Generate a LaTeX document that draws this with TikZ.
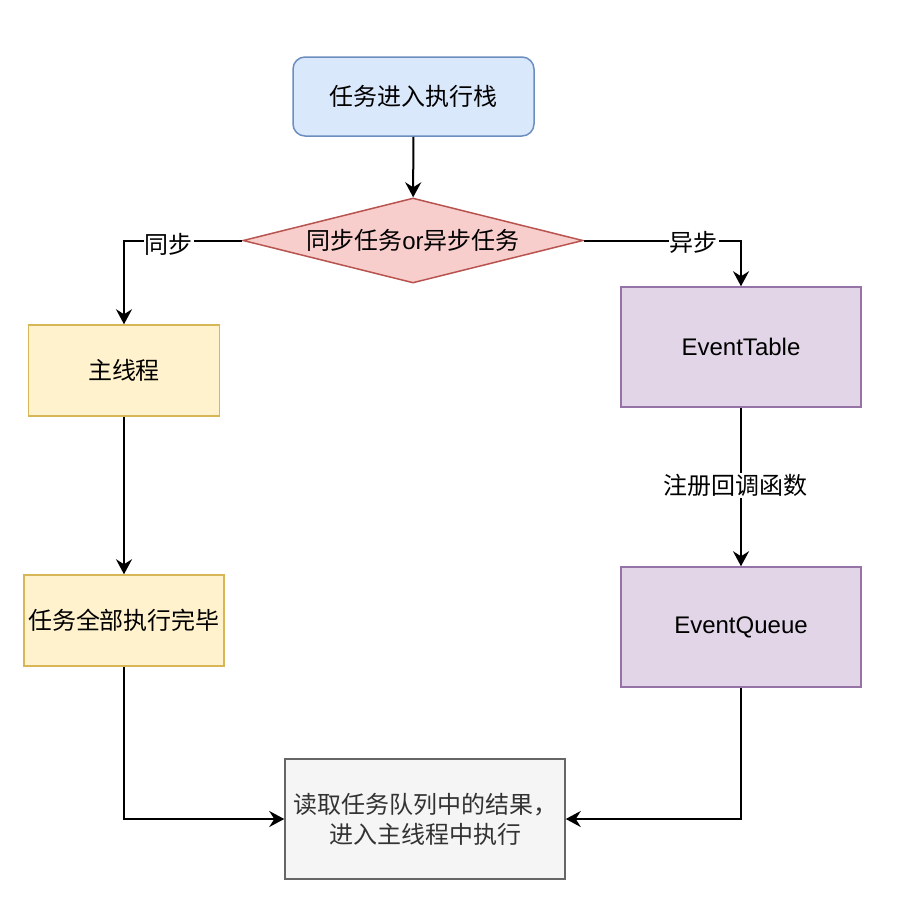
\documentclass[tikz,border=0pt]{standalone}
\usepackage{fontspec}
\setmainfont{Liberation Sans}
\newfontfamily\cjk{Noto Sans CJK SC}
\usetikzlibrary{shapes.geometric,arrows.meta}

\definecolor{blueFill}{HTML}{DAE8FC}
\definecolor{blueLine}{HTML}{6C8EBF}
\definecolor{redFill}{HTML}{F8CECC}
\definecolor{redLine}{HTML}{B85450}
\definecolor{yelFill}{HTML}{FFF2CC}
\definecolor{yelLine}{HTML}{D6B656}
\definecolor{purFill}{HTML}{E1D5E7}
\definecolor{purLine}{HTML}{9673A6}
\definecolor{grayFill}{HTML}{F5F5F5}
\definecolor{grayLine}{HTML}{666666}
\definecolor{grayText}{HTML}{333333}

\tikzset{
  base/.style={draw, line width=1.5pt, inner sep=0pt, align=center,
    font=\fontsize{24}{30}\selectfont},
  startbox/.style={base, rectangle, rounded corners=12pt, fill=blueFill, draw=blueLine,
    minimum width=241pt, minimum height=79pt},
  choice/.style={base, diamond, aspect=4, fill=redFill, draw=redLine,
    minimum width=340pt, minimum height=85pt},
  syncbox/.style={base, rectangle, fill=yelFill, draw=yelLine, minimum height=91pt},
  asyncbox/.style={base, rectangle, fill=purFill, draw=purLine,
    minimum width=240pt, minimum height=120pt},
  resultbox/.style={base, rectangle, fill=grayFill, draw=grayLine, text=grayText,
    minimum width=280pt, minimum height=120pt},
  arr/.style={line width=2pt, -{Stealth[length=15pt,width=16pt,inset=5pt]}},
  lbl/.style={fill=white, inner sep=1pt, font=\cjk\fontsize{24}{28}\selectfont}
}

\begin{document}
\begin{tikzpicture}[x=1pt, y=-1pt]
  \useasboundingbox (0,0) rectangle (898,906);

  % nodes
  \node[startbox] (start) at (413.5,96.5) {\cjk 任务进入执行栈};
  \node[choice] (kind) at (413,240.5) {{\cjk 同步任务}or{\cjk 异步任务}};
  \node[syncbox, minimum width=191pt] (mainthread) at (124,370.5) {\cjk 主线程};
  \node[syncbox, minimum width=200pt] (done) at (124,620.5) {\cjk 任务全部执行完毕};
  \node[asyncbox] (table) at (741,347) {EventTable};
  \node[asyncbox] (queue) at (741,627) {EventQueue};
  \node[resultbox] (result) at (425,819)
    {\cjk 读取任务队列中的结果，\\\cjk 进入主线程中执行};

  % connectors
  \draw[arr] (start) -- (kind);
  \draw[arr] (kind.west) -| node[lbl, pos=0.31, yshift=-4pt] {同步} (mainthread.north);
  \draw[arr] (kind.east) -| node[lbl, pos=0.35, yshift=-2pt] {异步} (table.north);
  \draw[arr] (table) -- node[lbl, xshift=-6pt, pos=0.49] {注册回调函数} (queue);
  \draw[arr] (mainthread) -- (done);
  \draw[arr] (done.south) |- (result.west);
  \draw[arr] (queue.south) |- (result.east);
\end{tikzpicture}
\end{document}
